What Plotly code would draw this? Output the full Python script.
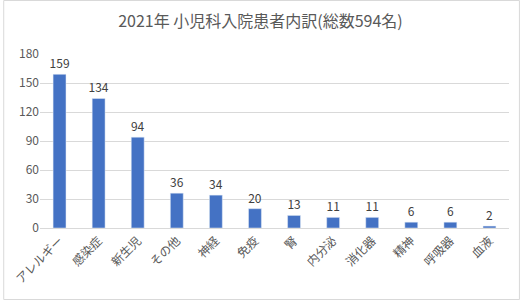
import plotly.graph_objects as go

categories = ["アレルギー", "感染症", "新生児", "その他", "神経", "免疫", "腎", "内分泌", "消化器", "精神", "呼吸器", "血液"]
values = [159, 134, 94, 36, 34, 20, 13, 11, 11, 6, 6, 2]
y_ticks = [0, 30, 60, 90, 120, 150, 180]

W, H = 521, 301
ml, mr, mt, mb = 37, 12, 54, 73
pw, ph = W - ml - mr, H - mt - mb

font = "Noto Sans CJK JP, sans-serif"

fig = go.Figure(go.Bar(
    x=categories, y=values,
    marker_color="#4472C4",
    text=[str(v) for v in values], textposition="outside",
    textfont=dict(size=12, color="#404040", family=font),
    constraintext="none",
    cliponaxis=False,
))

fig.update_layout(
    width=W, height=H,
    margin=dict(l=ml, r=mr, t=mt, b=mb),
    paper_bgcolor="white", plot_bgcolor="white",
    bargap=0.67,
    showlegend=False,
    font=dict(family=font, color="#595959"),
    title=dict(text="2021年 小児科入院患者内訳(総数594名)", x=0.5, xanchor="center",
               y=1 - 21 / H, yanchor="middle",
               font=dict(size=16, color="#595959", family=font)),
    xaxis=dict(tickangle=-45, tickfont=dict(size=12, color="#595959"),
               showline=True, linecolor="#d9d9d9", ticks=""),
    yaxis=dict(range=[0, 180], tickvals=y_ticks, tickfont=dict(size=12, color="#595959"),
               gridcolor="#d9d9d9", zeroline=False, showline=False, ticks=""),
    shapes=[dict(type="rect", xref="paper", yref="paper",
                 x0=-(ml - 0.5) / pw, x1=1 + (mr - 1.5) / pw,
                 y0=-(mb - 1.5) / ph, y1=1 + (mt - 0.5) / ph,
                 line=dict(color="#d9d9d9", width=1))],
)

fig.write_html("out.html")
